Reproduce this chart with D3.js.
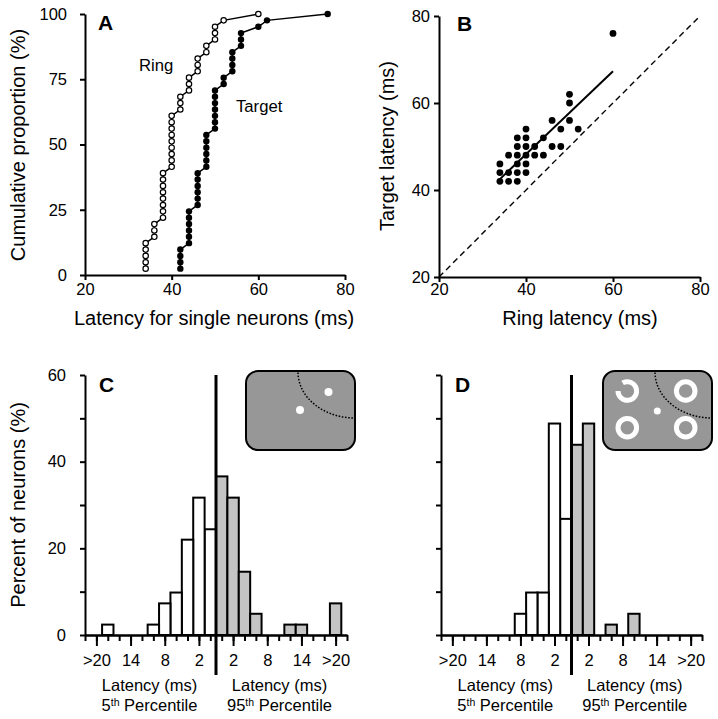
<!DOCTYPE html>
<html><head><meta charset="utf-8">
<script src="https://cdn.jsdelivr.net/npm/d3@7"></script>
<style>body{margin:0;background:#fff}</style>
</head><body>
<svg id="chart" width="718" height="719" xmlns="http://www.w3.org/2000/svg"></svg>
<script>
// ---------- DATA ----------
// Panel A: latencies (ms) of single neurons, sorted
const ringLatency = [34,34,34,34,34,36,36,36,38,38,38,38,38,38,38,38,40,40,40,40,40,40,40,40,40,42,42,42,44,44,44,46,46,46,48,48,50,50,50,52,60];
const targetLatency = [42,42,42,42,44,44,44,44,44,44,46,46,46,46,46,46,48,48,48,48,48,48,50,50,50,50,50,50,50,52,52,54,54,54,54,56,56,56,60,62,76];
// Panel B: ring vs target latency per neuron (visible points)
const scatterRing   = [34,34,34,36,36,36,38,38,38,38,38,38,40,40,40,40,40,40,42,42,44,44,46,46,48,48,50,50,50,52,60];
const scatterTarget = [46,44,42,48,44,42,52,50,48,46,44,42,54,52,50,48,46,44,50,48,52,48,56,50,54,50,62,60,56,54,76];
const fitRing = [34, 60];
const fitTarget = [42.5, 67.3];
// Panels C & D: percent of neurons per 2-ms bin, index 0 = nearest the centre line
const cEarly = [24.4, 31.7, 22.0, 9.8, 7.3, 2.4, 0, 0, 0, 2.4, 0];
const cLate  = [36.6, 31.7, 14.6, 4.9, 0, 0, 2.4, 2.4, 0, 0, 7.3];
const dEarly = [26.8, 48.8, 9.8, 9.8, 4.9, 0, 0, 0, 0, 0, 0];
const dLate  = [43.9, 48.8, 0, 2.4, 0, 4.9, 0, 0, 0, 0, 0];
const binTickIndex = [1, 4, 7, 10];
const binTickLabels = ["2", "8", "14", ">20"];
const histYTicks = [0, 10, 20, 30, 40, 50, 60];
const histYLabels = [0, 20, 40, 60];

// ---------- DRAWING ----------
const FONT = '"Liberation Sans", Arial, Helvetica, sans-serif';
const svg = d3.select("#chart");

function styleAxis(g, fs) {
  g.select(".domain").attr("stroke", "#000").attr("stroke-width", 2);
  g.selectAll(".tick line").attr("stroke", "#000").attr("stroke-width", 2);
  g.selectAll(".tick text").attr("fill", "#000").attr("font-size", fs).attr("font-family", FONT);
}
function txt(x, y, s, opt = {}) {
  const t = svg.append("text").attr("x", x).attr("y", y).text(s)
    .attr("font-family", FONT).attr("font-size", opt.size || 20)
    .attr("font-weight", opt.bold ? "bold" : "normal")
    .attr("text-anchor", opt.anchor || "start").attr("fill", "#000");
  if (opt.rotate) t.attr("transform", `rotate(-90,${x},${y})`);
  return t;
}

// ---- Panel A ----
const xA = d3.scaleLinear().domain([20, 80]).range([85, 345]);
const yA = d3.scaleLinear().domain([0, 100]).range([275, 14]);
styleAxis(svg.append("g").attr("transform", "translate(0,275)")
  .call(d3.axisBottom(xA).tickValues([20, 40, 60, 80]).tickSize(5).tickSizeOuter(0).tickPadding(3)), 16.5);
styleAxis(svg.append("g").attr("transform", "translate(85,0)")
  .call(d3.axisLeft(yA).tickValues([0, 25, 50, 75, 100]).tickSize(5).tickSizeOuter(0).tickPadding(13)), 16.5);

const ringPts = ringLatency.map((v, i) => ({ lat: v, p: (i + 1) / ringLatency.length * 100 }));
const targPts = targetLatency.map((v, i) => ({ lat: v, p: (i + 1) / targetLatency.length * 100 }));
const lineA = d3.line().x(d => xA(d.lat)).y(d => yA(d.p));
svg.append("path").attr("d", lineA(ringPts)).attr("fill", "none").attr("stroke", "#000").attr("stroke-width", 1.5);
svg.append("path").attr("d", lineA(targPts)).attr("fill", "none").attr("stroke", "#000").attr("stroke-width", 1.5);
svg.append("g").selectAll("circle").data(ringPts).join("circle")
  .attr("cx", d => xA(d.lat)).attr("cy", d => yA(d.p)).attr("r", 2.7)
  .attr("fill", "#fff").attr("stroke", "#000").attr("stroke-width", 1.2);
svg.append("g").selectAll("circle").data(targPts).join("circle")
  .attr("cx", d => xA(d.lat)).attr("cy", d => yA(d.p)).attr("r", 3.2).attr("fill", "#000");
txt(98, 30, "A", { size: 21, bold: true });
txt(139, 71, "Ring", { size: 16.7 });
txt(236, 112, "Target", { size: 16.7 });
txt(214, 325, "Latency for single neurons (ms)", { size: 20, anchor: "middle" });
txt(25, 145, "Cumulative proportion (%)", { size: 20, anchor: "middle", rotate: true });

// ---- Panel B ----
const xB = d3.scaleLinear().domain([20, 80]).range([439, 700]);
const yB = d3.scaleLinear().domain([20, 80]).range([277, 16]);
styleAxis(svg.append("g").attr("transform", "translate(0,277)")
  .call(d3.axisBottom(xB).tickValues([20, 40, 60, 80]).tickSize(5).tickSizeOuter(0).tickPadding(1.5)), 16.5);
styleAxis(svg.append("g").attr("transform", "translate(439,0)")
  .call(d3.axisLeft(yB).tickValues([20, 40, 60, 80]).tickSize(5).tickSizeOuter(0).tickPadding(4)), 16.5);
svg.append("line").attr("x1", xB(20)).attr("y1", yB(20)).attr("x2", xB(80)).attr("y2", yB(80))
  .attr("stroke", "#000").attr("stroke-width", 1.4).attr("stroke-dasharray", "6,4");
svg.append("line").attr("x1", xB(fitRing[0])).attr("y1", yB(fitTarget[0]))
  .attr("x2", xB(fitRing[1])).attr("y2", yB(fitTarget[1])).attr("stroke", "#000").attr("stroke-width", 2);
svg.append("g").selectAll("circle").data(scatterRing).join("circle")
  .attr("cx", d => xB(d)).attr("cy", (d, i) => yB(scatterTarget[i])).attr("r", 3.4).attr("fill", "#000");
txt(457, 30.5, "B", { size: 21, bold: true });
txt(580, 325, "Ring latency (ms)", { size: 20, anchor: "middle" });
txt(394, 146, "Target latency (ms)", { size: 20, anchor: "middle", rotate: true });

// ---- Panels C & D ----
const yH = d3.scaleLinear().domain([0, 60]).range([635, 375]);
function hist(x0, x1, early, late, showY, letter) {
  const xb = d3.scaleLinear().domain([-11.5, 11.5]).range([x0, x1]);
  const g = svg.append("g");
  early.forEach((v, k) => {
    if (v <= 0) return;
    g.append("rect").attr("x", xb(-(k + 1))).attr("width", xb(-k) - xb(-(k + 1)))
      .attr("y", yH(v)).attr("height", yH(0) - yH(v))
      .attr("fill", "#fff").attr("stroke", "#000").attr("stroke-width", 2);
  });
  late.forEach((v, k) => {
    if (v <= 0) return;
    g.append("rect").attr("x", xb(k)).attr("width", xb(k + 1) - xb(k))
      .attr("y", yH(v)).attr("height", yH(0) - yH(v))
      .attr("fill", "#c4c4c4").attr("stroke", "#000").attr("stroke-width", 2);
  });
  const minor = [];
  for (let k = 0; k <= 11; k++) { minor.push(-(k + 0.5), k + 0.5); }
  const major = [], majorLab = new Map();
  binTickIndex.forEach((k, i) => {
    major.push(-(k + 0.5), k + 0.5);
    majorLab.set(-(k + 0.5), binTickLabels[i]); majorLab.set(k + 0.5, binTickLabels[i]);
  });
  const gm = svg.append("g").attr("transform", "translate(0,635)")
    .call(d3.axisBottom(xb).tickValues(minor).tickSize(6).tickSizeOuter(0).tickFormat(""));
  styleAxis(gm, 16.5);
  const gM = svg.append("g").attr("transform", "translate(0,635)")
    .call(d3.axisBottom(xb).tickValues(major).tickSize(11).tickSizeOuter(0).tickPadding(8)
      .tickFormat(d => majorLab.get(d)));
  styleAxis(gM, 16.5);
  styleAxis(svg.append("g").attr("transform", `translate(${x0},0)`)
    .call(d3.axisLeft(yH).tickValues(histYTicks).tickSize(5).tickSizeOuter(0).tickPadding(14)
      .tickFormat(d => (showY && histYLabels.includes(d)) ? d : "")), 16.5);
  svg.append("line").attr("x1", xb(0)).attr("x2", xb(0)).attr("y1", yH(60)).attr("y2", 675)
    .attr("stroke", "#000").attr("stroke-width", 3);
  const lc = (xb(-11.5) + xb(0)) / 2 - 1, rc = (xb(0) + xb(11.5)) / 2 - 2;
  txt(lc, 690.5, "Latency (ms)", { size: 16.5, anchor: "middle" });
  txt(rc, 690.5, "Latency (ms)", { size: 16.5, anchor: "middle" });
  const t1 = txt(lc, 711, "5", { size: 16.5, anchor: "middle" });
  t1.append("tspan").attr("font-size", 10.5).attr("dy", -5).text("th");
  t1.append("tspan").attr("dy", 5).text(" Percentile");
  const t2 = txt(rc, 711, "95", { size: 16.5, anchor: "middle" });
  t2.append("tspan").attr("font-size", 10.5).attr("dy", -5).text("th");
  t2.append("tspan").attr("dy", 5).text(" Percentile");
  txt(x0 + 14, 391.7, letter, { size: 21, bold: true });
}
hist(85, 347, cEarly, cLate, true, "C");
hist(441, 702, dEarly, dLate, false, "D");
txt(25, 505, "Percent of neurons (%)", { size: 20, anchor: "middle", rotate: true });

// ---- Insets ----
function insetBox(x, y) {
  svg.append("rect").attr("x", x).attr("y", y).attr("width", 109).attr("height", 79).attr("rx", 12)
    .attr("fill", "#979797").attr("stroke", "#000").attr("stroke-width", 2);
  svg.append("path").attr("d", `M${x + 52},${y + 1.5} A57,46 0 0 0 ${x + 108},${y + 47}`)
    .attr("fill", "none").attr("stroke", "#000").attr("stroke-width", 1.5).attr("stroke-dasharray", "1.6,1.6");
}
insetBox(246, 371);
svg.append("circle").attr("cx", 300).attr("cy", 410).attr("r", 4).attr("fill", "#fff");
svg.append("circle").attr("cx", 328.5).attr("cy", 392).attr("r", 4).attr("fill", "#fff");

insetBox(603, 371);
[[685.7, 391], [627.3, 427.7], [685.7, 427.7]].forEach(([cx, cy]) =>
  svg.append("circle").attr("cx", cx).attr("cy", cy).attr("r", 9.3)
    .attr("fill", "none").attr("stroke", "#fff").attr("stroke-width", 5));
svg.append("path").attr("transform", "translate(627.3,391)")
  .attr("d", d3.arc().innerRadius(6.8).outerRadius(11.8).startAngle(-Math.PI / 6).endAngle(1.5 * Math.PI)())
  .attr("fill", "#fff");
svg.append("circle").attr("cx", 657.3).attr("cy", 411).attr("r", 3.5).attr("fill", "#fff");
</script>
</body></html>
